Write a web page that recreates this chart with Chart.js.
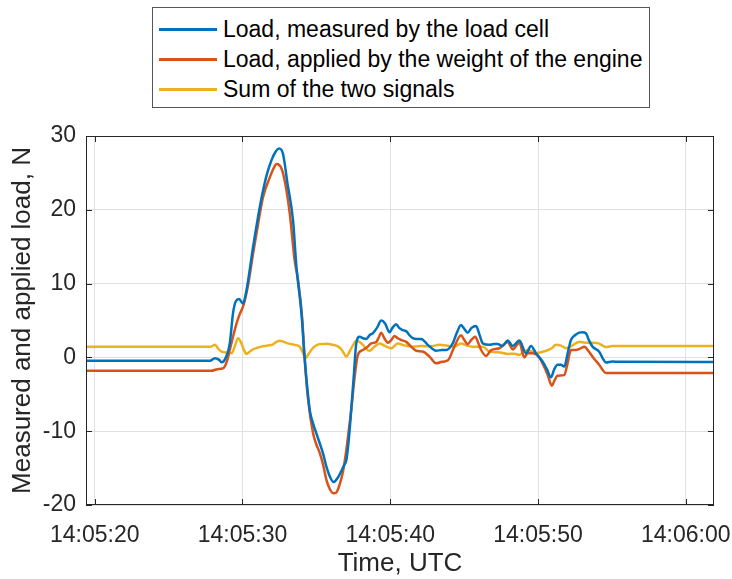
<!DOCTYPE html>
<html>
<head>
<meta charset="utf-8">
<script src="https://cdn.jsdelivr.net/npm/chart.js@4/dist/chart.umd.min.js"></script>
<style>
  body { margin: 0; background: #fff; }
  #wrap { position: relative; width: 732px; height: 579px; }
  #legend {
    position: absolute; left: 152px; top: 7px; width: 496px; height: 97px;
    border: 1px solid #555; background: #fff; padding-top: 6px; box-sizing: content-box;
    font-family: "Liberation Sans", Arial, sans-serif; font-size: 23px; color: #000;
  }
  #legend { height: 93px; }
  .item { height: 30px; display: flex; align-items: center; }
  .swatch { width: 58px; height: 3px; margin: 0 6px 0 6px; }
</style>
</head>
<body>
<div id="wrap">
  <canvas id="chart" width="732" height="579"></canvas>
  <div id="legend"></div>
</div>
<script>
// time = seconds after 14:05:00 UTC
const measuredTime = [19.4, 27.8, 28.13, 28.4, 28.58, 28.8, 29.14, 29.36, 29.55, 29.77, 30.04, 30.27, 30.72, 31.05, 31.35, 31.65, 31.96, 32.25, 32.47, 32.74, 33.05, 33.42, 33.65, 33.99, 34.2, 34.55, 34.77, 35.0, 35.22, 35.45, 35.68, 35.95, 36.17, 36.45, 36.69, 36.9, 37.03, 37.2, 37.36, 37.55, 37.7, 37.93, 38.15, 38.38, 38.6, 38.83, 39.1, 39.39, 39.65, 39.95, 40.15, 40.4, 40.6, 40.85, 41.1, 41.3, 41.53, 41.8, 42.1, 42.54, 43.1, 43.5, 43.78, 44.23, 44.5, 44.79, 45.0, 45.24, 45.5, 45.81, 46.05, 46.26, 46.71, 47.0, 47.27, 47.6, 47.95, 48.28, 48.74, 49.19, 49.53, 49.86, 50.31, 50.6, 50.88, 51.1, 51.32, 51.55, 51.78, 52.0, 52.23, 52.5, 52.79, 53.0, 53.24, 53.45, 53.69, 54.14, 54.4, 54.6, 55.04, 55.5, 61.91];
const measuredLoad = [-0.45, -0.45, -0.1, -0.3, -0.65, -0.3, 1.9, 6.0, 7.6, 7.9, 7.3, 9.1, 15.0, 19.0, 22.2, 24.8, 26.7, 27.9, 28.3, 27.6, 23.5, 18.6, 12.3, 6.0, 0.1, -7.1, -8.9, -10.3, -11.6, -13.0, -14.8, -16.3, -16.9, -16.3, -15.4, -14.5, -13.9, -11.0, -7.1, -2.0, 1.9, 2.8, 2.6, 2.5, 3.0, 3.3, 4.0, 5.0, 4.6, 3.4, 4.0, 4.5, 4.0, 3.7, 3.5, 3.0, 2.6, 2.5, 2.5, 1.7, 0.9, 1.0, 1.0, 1.9, 3.3, 4.4, 3.9, 3.35, 4.0, 4.26, 3.0, 1.9, 1.7, 1.8, 1.8, 1.55, 2.3, 1.55, 2.3, 0.56, 1.55, 0.56, -0.56, -1.6, -2.7, -1.6, -1.0, -1.0, -1.24, 0.5, 2.36, 3.0, 3.35, 3.4, 3.27, 2.3, 1.46, 0.78, -0.2, -0.7, -0.56, -0.6, -0.62];

const appliedTime = [19.4, 27.9, 28.3, 28.7, 28.95, 29.14, 29.36, 29.6, 29.8, 30.04, 30.35, 30.72, 31.05, 31.39, 31.85, 32.1, 32.3, 32.64, 32.9, 33.2, 33.54, 33.76, 34.05, 34.2, 34.44, 34.77, 35.0, 35.22, 35.45, 35.68, 35.9, 36.13, 36.35, 36.58, 36.8, 37.03, 37.2, 37.36, 37.6, 37.81, 38.15, 38.45, 38.72, 39.05, 39.2, 39.39, 39.6, 39.84, 40.05, 40.29, 40.5, 40.74, 41.08, 41.4, 41.76, 42.2, 42.66, 43.1, 43.5, 43.9, 44.34, 44.79, 45.0, 45.24, 45.5, 45.76, 45.95, 46.15, 46.49, 46.83, 47.39, 47.95, 48.28, 48.74, 49.07, 49.3, 49.63, 50.08, 50.4, 50.65, 50.94, 51.1, 51.32, 51.78, 52.0, 52.23, 52.57, 52.85, 53.14, 53.4, 53.69, 54.14, 54.6, 61.91];
const appliedLoad = [-1.82, -1.82, -1.6, -1.46, -0.5, 1.0, 2.8, 4.6, 5.8, 6.9, 9.5, 14.1, 18.0, 21.7, 24.4, 25.6, 26.2, 25.6, 23.5, 19.5, 13.0, 10.5, 5.1, 0.0, -5.7, -10.2, -11.8, -12.9, -14.5, -16.6, -17.8, -18.4, -18.3, -17.2, -15.5, -12.5, -9.8, -7.1, -2.5, 0.34, 1.0, 1.4, 1.9, 2.1, 2.6, 3.35, 2.6, 2.0, 2.3, 2.9, 2.6, 2.36, 2.1, 1.5, 0.9, 0.8, 0.1, -0.8, -0.6, -0.4, 1.46, 3.0, 2.4, 1.8, 2.4, 2.8, 2.0, 1.0, 0.2, 1.0, 1.24, 2.1, 1.1, 2.0, 0.0, 0.56, 0.56, 0.0, -1.2, -2.36, -3.85, -3.2, -2.5, -2.36, -0.8, 1.0, 1.0, 1.2, 1.46, 0.9, 0.1, -1.0, -2.1, -2.1];

const sumTime = [19.4, 27.85, 28.14, 28.35, 28.58, 29.0, 29.26, 29.5, 29.7, 29.93, 30.1, 30.27, 30.5, 30.72, 31.0, 31.28, 31.7, 32.07, 32.3, 32.52, 32.8, 33.08, 33.5, 33.87, 34.05, 34.28, 34.45, 34.66, 34.9, 35.22, 35.7, 36.13, 36.45, 36.69, 36.85, 37.03, 37.2, 37.36, 37.55, 37.7, 37.9, 38.15, 38.35, 38.6, 38.9, 39.28, 39.6, 40.07, 40.5, 41.0, 41.53, 42.1, 42.7, 43.33, 43.8, 44.34, 44.79, 45.2, 45.58, 46.26, 46.71, 47.3, 47.95, 48.4, 48.74, 49.0, 49.3, 49.6, 49.86, 50.2, 50.54, 50.9, 51.22, 51.55, 51.9, 52.3, 52.79, 53.2, 53.69, 54.1, 54.6, 55.04, 61.91];
const sumLoad = [1.46, 1.46, 1.7, 1.2, 0.78, 0.65, 0.56, 1.6, 2.6, 1.9, 1.0, 0.47, 0.8, 1.1, 1.3, 1.46, 1.6, 1.78, 2.1, 2.27, 2.1, 1.9, 1.7, 1.46, 0.8, -0.1, 0.4, 1.0, 1.5, 1.8, 1.85, 1.7, 1.5, 1.1, 0.6, 0.1, 0.6, 1.24, 1.9, 2.27, 2.1, 1.7, 1.2, 0.9, 1.4, 1.9, 1.6, 1.24, 1.9, 1.6, 1.46, 1.55, 1.5, 1.7, 1.6, 1.46, 1.9, 1.6, 1.46, 1.46, 0.78, 0.7, 0.47, 0.5, 0.34, 0.7, 1.0, 0.8, 0.56, 0.7, 0.9, 1.2, 1.7, 1.6, 1.24, 1.6, 2.1, 2.0, 2.0, 1.9, 1.4, 1.55, 1.55];

const seriesLabels = ["Load, measured by the load cell", "Load, applied by the weight of the engine", "Sum of the two signals"];
const seriesColors = ["#0072BD", "#D95319", "#EDB120"];
const xTicks = [20, 30, 40, 50, 60];
const yTicks = [-20, -10, 0, 10, 20, 30];

function toPoints(times, values) {
  return times.map((t, i) => ({x: t, y: values[i]}));
}

function timeLabel(sec) {
  const m = 5 + Math.floor(sec / 60);
  const s = sec % 60;
  return "14:" + String(m).padStart(2, "0") + ":" + String(s).padStart(2, "0");
}

// axes box and inward tick marks, drawn over the lines
const boxPlugin = {
  id: "box",
  afterDatasetsDraw(chart) {
    const {ctx, chartArea: a, scales} = chart;
    ctx.save();
    ctx.strokeStyle = "#262626";
    ctx.lineWidth = 1;
    ctx.strokeRect(a.left + 0.5, a.top + 0.5, a.right - a.left - 1, a.bottom - a.top - 1);
    ctx.beginPath();
    xTicks.forEach((v) => {
      const px = Math.round(scales.x.getPixelForValue(v)) + 0.5;
      ctx.moveTo(px, a.bottom); ctx.lineTo(px, a.bottom - 6);
      ctx.moveTo(px, a.top); ctx.lineTo(px, a.top + 6);
    });
    yTicks.forEach((v) => {
      const py = Math.round(scales.y.getPixelForValue(v)) + 0.5;
      ctx.moveTo(a.left, py); ctx.lineTo(a.left + 6, py);
      ctx.moveTo(a.right, py); ctx.lineTo(a.right - 6, py);
    });
    ctx.stroke();
    ctx.restore();
  }
};

const fontFamily = '"Liberation Sans", Arial, sans-serif';
const gridColor = "#e0e0e0";

const chart = new Chart(document.getElementById("chart"), {
  type: "line",
  data: {
    datasets: [
      {label: seriesLabels[0], data: toPoints(measuredTime, measuredLoad), borderColor: seriesColors[0]},
      {label: seriesLabels[1], data: toPoints(appliedTime, appliedLoad), borderColor: seriesColors[1]},
      {label: seriesLabels[2], data: toPoints(sumTime, sumLoad), borderColor: seriesColors[2]},
    ],
  },
  options: {
    responsive: false,
    animation: false,
    devicePixelRatio: 1,
    layout: {padding: {left: 0, right: 18, top: 136, bottom: 0}},
    elements: {
      line: {borderWidth: 2.5, cubicInterpolationMode: "monotone", fill: false},
      point: {radius: 0},
    },
    plugins: {legend: {display: false}, tooltip: {enabled: false}},
    scales: {
      x: {
        type: "linear",
        min: 19.41,
        max: 61.91,
        afterBuildTicks: (scale) => { scale.ticks = xTicks.map((v) => ({value: v})); },
        afterFit: (scale) => { scale.height = 74; scale.paddingLeft = 0; scale.paddingRight = 0; },
        grid: {color: gridColor, drawTicks: false},
        border: {display: false},
        ticks: {
          callback: (v) => timeLabel(v),
          font: {family: fontFamily, size: 23},
          color: "#262626",
          padding: 17,
          maxRotation: 0,
        },
        title: {
          display: true,
          text: "Time, UTC",
          font: {family: fontFamily, size: 26},
          color: "#262626",
          padding: {top: 0, bottom: 0},
        },
      },
      y: {
        min: -20,
        max: 30,
        afterBuildTicks: (scale) => { scale.ticks = yTicks.map((v) => ({value: v})); },
        afterFit: (scale) => { scale.width = 86; },
        grid: {color: gridColor, drawTicks: false},
        border: {display: false},
        ticks: {
          font: {family: fontFamily, size: 23},
          color: "#262626",
          padding: 10,
        },
        title: {
          display: true,
          text: "Measured and applied load, N",
          font: {family: fontFamily, size: 26},
          color: "#262626",
          padding: {top: 7, bottom: 0},
        },
      },
    },
  },
  plugins: [boxPlugin],
});

// legend box built from the chart's datasets
const legend = document.getElementById("legend");
chart.data.datasets.forEach((ds) => {
  const row = document.createElement("div");
  row.className = "item";
  const sw = document.createElement("span");
  sw.className = "swatch";
  sw.style.background = ds.borderColor;
  const txt = document.createElement("span");
  txt.textContent = ds.label;
  row.appendChild(sw);
  row.appendChild(txt);
  legend.appendChild(row);
});
</script>
</body>
</html>
